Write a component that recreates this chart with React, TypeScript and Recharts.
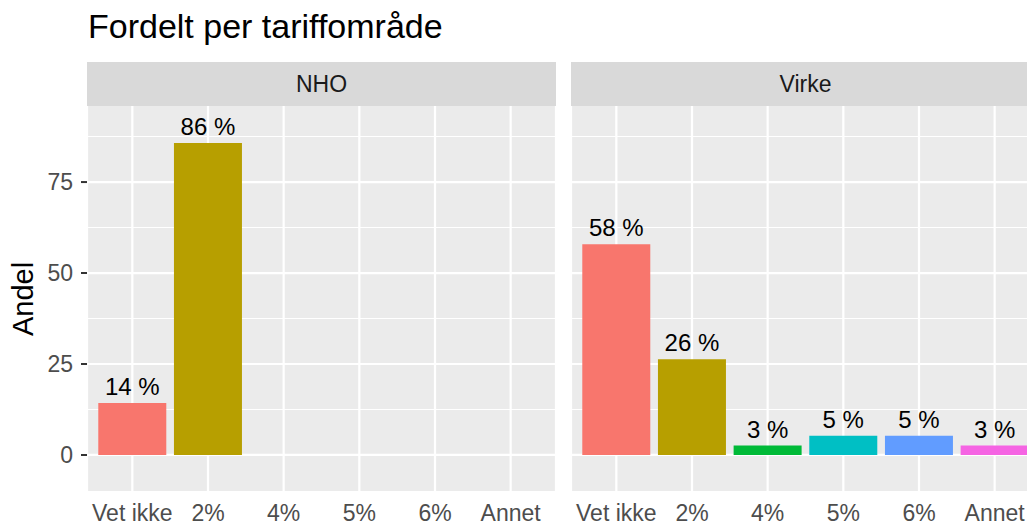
import React from 'react'
import { BarChart, Bar, XAxis, YAxis, CartesianGrid, Cell, LabelList } from 'recharts'

const categories = ['Vet ikke', '2%', '4%', '5%', '6%', 'Annet']
const nhoValues: (number | null)[] = [14.3, 85.7, null, null, null, null]
const virkeValues: (number | null)[] = [57.9, 26.3, 2.6, 5.3, 5.3, 2.6]
const barColors = ['#F8766D', '#B79F00', '#00BA38', '#00BFC4', '#619CFF', '#F564E3']
const yTicks = [0, 25, 50, 75]
const yMinorTicks = [12.5, 37.5, 62.5, 87.5]
const yDomain = [-9.9, 95.9]

const FONT = '"Liberation Sans", Arial, sans-serif'

const toRows = (values: (number | null)[]) =>
  categories.map((name, i) => ({ name, value: values[i] }))

type PanelProps = {
  values: (number | null)[]
  showY: boolean
  width: number
}

const Panel = ({ values, showY, width }: PanelProps) => {
  return (
    <BarChart
      width={width}
      height={420}
      data={toRows(values)}
      margin={{ top: 0, right: 0, bottom: 0, left: 0 }}
      barCategoryGap="5%"
      style={{ fontFamily: FONT }}
    >
      <CartesianGrid
        fill="#EBEBEB"
        stroke="#FFFFFF"
        strokeWidth={1.1}
        vertical={false}
        horizontalValues={yMinorTicks}
      />
      <CartesianGrid stroke="#FFFFFF" strokeWidth={2.2} horizontalValues={yTicks} />
      <XAxis
        dataKey="name"
        height={35}
        padding={{ left: 7.5, right: 7.5 }}
        axisLine={false}
        tickLine={false}
        tickSize={6}
        tickMargin={8}
        interval={0}
        tick={{ fill: '#4D4D4D', fontSize: 23 }}
      />
      <YAxis
        type="number"
        domain={yDomain}
        ticks={yTicks}
        allowDataOverflow
        hide={!showY}
        width={showY ? 87 : 0}
        axisLine={false}
        tickLine={{ stroke: '#333333', strokeWidth: 2 }}
        tickSize={6}
        tickMargin={8}
        tick={{ fill: '#4D4D4D', fontSize: 23 }}
      />
      <Bar dataKey="value" isAnimationActive={false}>
        {categories.map((c, i) => (
          <Cell key={c} fill={barColors[i]} />
        ))}
        <LabelList
          dataKey="value"
          position="top"
          offset={8}
          fill="#000000"
          fontSize={24}
          formatter={(v: any) => (v == null ? '' : `${Math.round(Number(v))} %`)}
        />
      </Bar>
    </BarChart>
  )
}

const stripStyle: React.CSSProperties = {
  position: 'absolute',
  top: 62,
  height: 44,
  background: '#D9D9D9',
  color: '#1A1A1A',
  fontSize: 23,
  display: 'flex',
  alignItems: 'center',
  justifyContent: 'center',
}

export default function App() {
  return (
    <div
      style={{
        position: 'absolute',
        left: 0,
        top: 0,
        width: 1027,
        height: 526,
        overflow: 'hidden',
        background: '#FFFFFF',
        fontFamily: FONT,
      }}
    >
      <div
        style={{
          position: 'absolute',
          left: 88,
          top: 9,
          fontSize: 34,
          lineHeight: '34px',
          color: '#000000',
          whiteSpace: 'nowrap',
        }}
      >
        Fordelt per tariffområde
      </div>
      <div
        style={{
          position: 'absolute',
          left: 23,
          top: 299,
          transform: 'translate(-50%, -50%) rotate(-90deg)',
          fontSize: 29,
          lineHeight: '29px',
          color: '#000000',
          whiteSpace: 'nowrap',
        }}
      >
        Andel
      </div>
      <div style={{ ...stripStyle, left: 87, width: 469 }}>NHO</div>
      <div style={{ ...stripStyle, left: 571, width: 469 }}>Virke</div>
      <div style={{ position: 'absolute', left: 0, top: 106 }}>
        <Panel values={nhoValues} showY width={556} />
      </div>
      <div style={{ position: 'absolute', left: 571, top: 106 }}>
        <Panel values={virkeValues} showY={false} width={469} />
      </div>
    </div>
  )
}
